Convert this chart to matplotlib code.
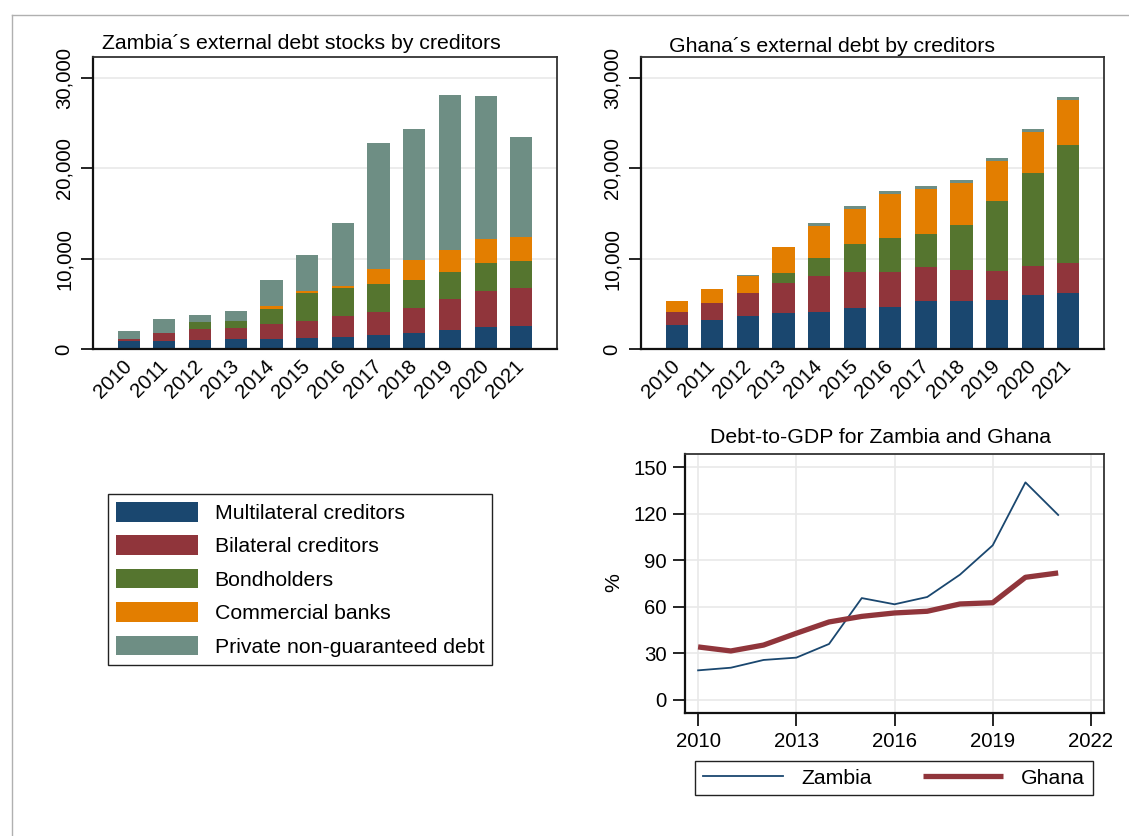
import matplotlib
matplotlib.use('Agg')
import matplotlib.pyplot as plt
import numpy as np
from matplotlib.lines import Line2D
from matplotlib.ticker import FuncFormatter

plt.rcParams['font.family'] = ['Liberation Sans', 'DejaVu Sans']

# ---------------- data ----------------
years = [2010, 2011, 2012, 2013, 2014, 2015, 2016, 2017, 2018, 2019, 2020, 2021]
categories = ["Multilateral creditors", "Bilateral creditors", "Bondholders",
              "Commercial banks", "Private non-guaranteed debt"]

zambia_multilateral = [884, 884, 1031, 1105, 1105, 1215, 1326, 1547, 1768, 2099, 2431, 2578]
zambia_bilateral = [221, 847, 1179, 1252, 1657, 1879, 2357, 2541, 2762, 3426, 3978, 4199]
zambia_bondholders = [0, 0, 773, 737, 1658, 3093, 3094, 3094, 3094, 2983, 3093, 2946]
zambia_commercial = [0, 0, 0, 0, 368, 222, 221, 1620, 2247, 2467, 2689, 2652]
zambia_private = [884, 1584, 774, 1105, 2836, 3977, 6924, 13996, 14510, 17163, 15836, 11049]

ghana_multilateral = [2689, 3241, 3683, 4014, 4125, 4567, 4677, 5340, 5340, 5451, 6003, 6224]
ghana_bilateral = [1399, 1842, 2504, 3278, 3978, 3978, 3868, 3720, 3426, 3204, 3205, 3278]
ghana_bondholders = [0, 0, 0, 1105, 1988, 3093, 3756, 3683, 4972, 7734, 10275, 13075]
ghana_commercial = [1215, 1546, 1916, 2873, 3536, 3867, 4898, 4972, 4640, 4420, 4530, 5008]
ghana_private = [0, 0, 60, 0, 332, 332, 295, 332, 332, 331, 331, 295]

zambia_debt_gdp = [18.9, 20.6, 25.6, 27.1, 35.9, 65.5, 61.5, 66.2, 80.6, 99.5, 140.1, 119.1]
ghana_debt_gdp = [34.0, 31.4, 35.2, 42.8, 50.1, 53.7, 55.9, 57.0, 61.7, 62.5, 78.9, 81.7]

bar_yticks = [0, 10000, 20000, 30000]
line_xticks = [2010, 2013, 2016, 2019, 2022]
line_yticks = [0, 30, 60, 90, 120, 150]

colors = ['#1a476f', '#90353b', '#55752f', '#e37e00', '#6e8e84']
navy, maroon = '#1a476f', '#90353b'

FS = 15.3
TFS = 14.7
GRID = '#e9e9e9'

W, H = 1129, 836
fig = plt.figure(figsize=(W / 100, H / 100), dpi=100)
fig.patch.set_facecolor('white')


def px_axes(l, t, r, b):
    return fig.add_axes([l / W, 1 - b / H, (r - l) / W, (b - t) / H])


def style_spines(ax):
    for s in ['left', 'bottom']:
        ax.spines[s].set_color('#111111')
        ax.spines[s].set_linewidth(1.6)
    for s in ['top', 'right']:
        ax.spines[s].set_color('#333333')
        ax.spines[s].set_linewidth(1.3)


def stacked(ax, series):
    x = np.arange(len(years))
    bottom = np.zeros(len(years))
    handles = []
    for vals, c, lab in zip(series, colors, categories):
        h = ax.bar(x, vals, width=0.62, bottom=bottom, color=c, linewidth=0, label=lab, zorder=2)
        handles.append(h)
        bottom = bottom + np.array(vals)
    ax.set_xlim(-1, len(years))
    ax.set_ylim(0, 32300)
    ax.set_yticks(bar_yticks)
    ax.yaxis.set_major_formatter(FuncFormatter(lambda v, p: f"{v:,.0f}"))
    ax.grid(axis='y', color=GRID, linewidth=1.2, zorder=0)
    ax.set_axisbelow(True)
    ax.set_xticks(x)
    ax.set_xticklabels([str(y) for y in years], rotation=45, ha='right', va='center',
                       rotation_mode='anchor', fontsize=TFS)
    ax.tick_params(axis='x', length=0, pad=10)
    ax.tick_params(axis='y', length=9, width=1.2, pad=5, labelsize=TFS)
    for lab in ax.get_yticklabels():
        lab.set_rotation(90)
        lab.set_va('center')
    style_spines(ax)
    return handles


ax1 = px_axes(93, 57, 557, 349)
handles = stacked(ax1, [zambia_multilateral, zambia_bilateral, zambia_bondholders,
                        zambia_commercial, zambia_private])
ax2 = px_axes(641, 57, 1104, 349)
stacked(ax2, [ghana_multilateral, ghana_bilateral, ghana_bondholders,
              ghana_commercial, ghana_private])

fig.text(102 / W, 1 - 49 / H, "Zambia\u00b4s external debt stocks by creditors",
         fontsize=FS, ha='left', va='baseline')
fig.text(669 / W, 1 - 51.5 / H, "Ghana\u00b4s external debt by creditors",
         fontsize=FS, ha='left', va='baseline')

# ---------------- line chart ----------------
ax3 = px_axes(685, 454, 1104, 713)
l1, = ax3.plot(years, zambia_debt_gdp, color=navy, linewidth=1.3, label='Zambia', zorder=3)
l2, = ax3.plot(years, ghana_debt_gdp, color=maroon, linewidth=3.8, label='Ghana', zorder=3,
               solid_capstyle='butt')
ax3.set_xlim(2009.6, 2022.4)
ax3.set_ylim(-8.6, 158.4)
ax3.set_xticks(line_xticks)
ax3.set_yticks(line_yticks)
ax3.grid(True, color=GRID, linewidth=1.2, zorder=0)
ax3.set_axisbelow(True)
ax3.tick_params(axis='both', length=9, width=1.2, labelsize=TFS)
ax3.tick_params(axis='y', pad=4)
ax3.tick_params(axis='x', pad=5)
style_spines(ax3)
fig.text(614 / W, 1 - 583 / H, "%", fontsize=FS, rotation=90, ha='center', va='center')
fig.text(880 / W, 1 - 443 / H, "Debt-to-GDP for Zambia and Ghana", fontsize=FS,
         ha='center', va='baseline')

# ---------------- legends ----------------
leg1 = fig.legend(handles=handles, labels=categories, loc='upper left',
                  bbox_to_anchor=(108 / W, 1 - 494 / H), borderaxespad=0,
                  fontsize=FS, frameon=True, fancybox=False, edgecolor='#222222',
                  framealpha=1, handlelength=3.85, handleheight=1.05,
                  handletextpad=0.8, labelspacing=0.58, borderpad=0.37)
leg1.get_frame().set_linewidth(1.0)

leg2 = fig.legend(handles=[l1, l2], labels=['Zambia', 'Ghana'], loc='upper left',
                  bbox_to_anchor=(695 / W, 1 - 761 / H), borderaxespad=0, ncol=2,
                  fontsize=FS, frameon=True, fancybox=False, edgecolor='#222222',
                  framealpha=1, handlelength=3.8, handletextpad=0.84,
                  columnspacing=2.4, borderpad=0.36)
leg2.get_frame().set_linewidth(1.0)

# outer frame lines (partial border)
fig.add_artist(Line2D([12 / W, 1], [1 - 15 / H, 1 - 15 / H], color='#b0b0b0', linewidth=1.0))
fig.add_artist(Line2D([12 / W, 12 / W], [0, 1 - 15 / H], color='#b0b0b0', linewidth=1.0))

fig.savefig('out.png', dpi=100, facecolor='white')
